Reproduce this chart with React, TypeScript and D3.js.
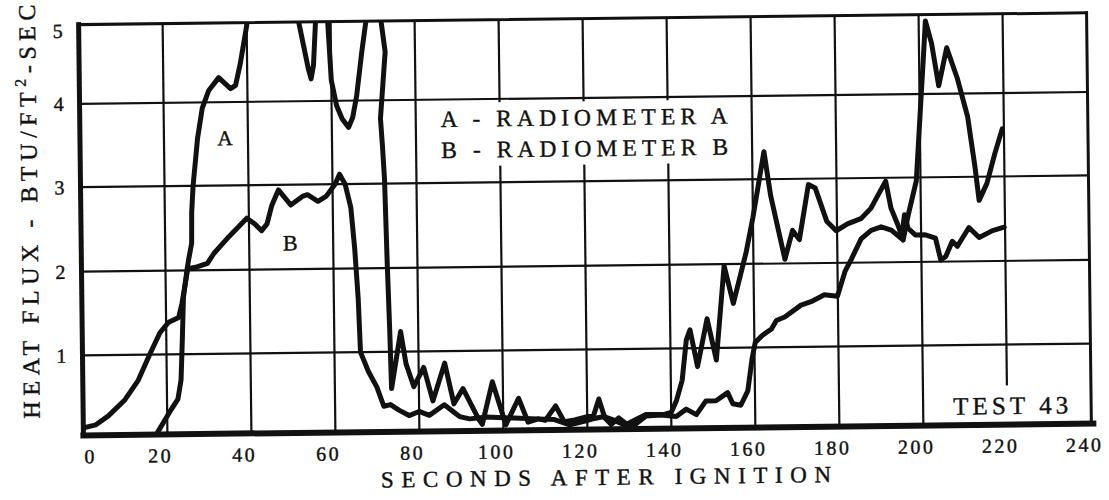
import React from 'react';
import * as d3 from 'd3';

const timeTicks: number[] = [0, 20, 40, 60, 80, 100, 120, 140, 160, 180, 200, 220, 240];
const fluxTicks: number[] = [1, 2, 3, 4, 5];
const fluxGridLevels: number[] = [0, 1, 2, 3, 4, 5];

const legendLines: string[] = ['A - RADIOMETER A', 'B - RADIOMETER B'];
const xTitle = 'SECONDS AFTER IGNITION';
const testLabel = 'TEST 43';

// Radiometer A: [seconds, BTU/ft^2-sec] (values above 5 run off the top of the chart)
const radiometerA: [number, number][] = [
  [17.7, 0.03], [20.6, 0.28], [22.6, 0.44], [23.4, 0.68], [23.8, 1.16], [24.2, 1.68], [25.1, 2.0],
  [25.5, 2.12], [26.3, 2.32], [26.4, 2.69], [26.8, 3.0], [28, 3.57], [29.2, 3.93], [30.8, 4.15],
  [33.2, 4.31], [34.4, 4.25], [36, 4.17], [37.2, 4.21], [38.4, 4.49], [40, 4.96], [40.5, 5.4],
  [52, 5.4], [52.4, 5.0], [53.5, 4.7], [54.6, 4.4], [55.2, 4.28], [55.8, 4.45], [56.4, 5.0], [56.8, 5.4],
  [59, 5.4], [59.3, 5.0], [60, 4.26], [61.2, 3.94], [62.5, 3.78], [64, 3.68], [65, 3.8], [66, 4.06],
  [67.3, 4.6], [68.4, 5.0], [68.8, 5.4], [71.8, 5.4], [72, 5.0], [72.9, 4.61], [71.6, 3.78], [72, 3.45],
  [72.4, 3.05], [72.8, 2.07], [73.2, 1.29], [73.5, 0.54], [75.8, 1.24], [77, 0.85], [78.8, 0.56],
  [81.2, 0.8], [83.3, 0.38], [86.2, 0.85], [88.3, 0.34], [90.5, 0.53], [94.2, 0.14], [95, 0.08],
  [97.5, 0.61], [100.6, 0.07], [103.7, 0.4], [105.9, 0.1], [108.3, 0.14], [110, 0.12], [112.5, 0.3],
  [114.5, 0.1], [117, 0.12], [120, 0.16], [121.5, 0.17], [122.8, 0.38], [124.2, 0.14], [125.7, 0.06],
  [127.5, 0.14], [129.4, 0.06], [131.7, 0.12], [134, 0.18], [138.5, 0.18], [140, 0.2], [141.3, 0.35],
  [142.7, 0.6], [143.8, 1.1], [144.7, 1.22], [146.4, 0.77], [148.8, 1.35], [150.9, 0.85], [153, 1.98],
  [155.1, 1.53], [158.3, 2.14], [160, 2.55], [162.8, 3.33], [164.3, 2.8], [167.5, 2.05], [169.4, 2.39],
  [171, 2.28], [173.3, 2.93], [174.9, 2.89], [177.6, 2.49], [179.8, 2.38], [182.5, 2.46], [185.7, 2.52],
  [188.1, 2.64], [191.7, 2.96], [192.9, 2.64], [194.5, 2.44], [195.7, 2.26], [197, 2.56], [199, 2.96],
  [200.2, 3.84], [201, 4.44], [201.6, 4.92], [203, 4.64], [204.6, 4.1], [206.6, 4.58], [209, 4.2],
  [211.4, 3.72], [213, 3.12], [213.9, 2.72], [215.8, 2.92], [217.8, 3.28], [219.6, 3.57],
];

// Radiometer B
const radiometerB: [number, number][] = [
  [0.5, 0.1], [3, 0.13], [6, 0.24], [10, 0.44], [13.2, 0.68], [16, 1.0], [18.5, 1.26], [20.5, 1.38],
  [23, 1.44], [23.8, 1.6], [25.3, 2.02], [27.5, 2.04], [30, 2.08], [31.6, 2.2], [35.3, 2.4],
  [39.5, 2.61], [41.4, 2.54], [43, 2.46], [44.3, 2.54], [45.5, 2.76], [47.1, 2.94], [48.4, 2.86],
  [50, 2.76], [52.8, 2.86], [54, 2.88], [56.5, 2.8], [58.5, 2.86], [60.6, 3.0], [61.7, 3.12],
  [63, 3.0], [64.3, 2.72], [65.1, 2.24], [65.8, 1.64], [66.2, 1.0], [68, 0.76], [70, 0.56],
  [71.6, 0.32], [73.2, 0.34], [75.2, 0.27], [77.6, 0.2], [80, 0.25], [82.4, 0.2], [86, 0.33],
  [89.6, 0.18], [92, 0.15], [96, 0.17], [100, 0.16], [104, 0.15], [108, 0.14], [112, 0.13],
  [115.8, 0.06], [119, 0.1], [122, 0.14], [124, 0.16], [126, 0.12], [128.5, 0.06], [131, 0.04],
  [134, 0.16], [137.6, 0.17], [141.2, 0.15], [143.6, 0.24], [146, 0.17], [148.3, 0.34], [150.7, 0.34],
  [153.5, 0.44], [154.7, 0.3], [156.6, 0.28], [158.3, 0.46], [159.4, 0.86], [160.2, 1.06],
  [161.8, 1.14], [164.1, 1.22], [165.3, 1.32], [167.3, 1.36], [171.2, 1.5], [173.6, 1.54],
  [176.8, 1.62], [179.9, 1.6], [181.8, 1.9], [183.3, 2.04], [185.7, 2.28], [188.1, 2.38],
  [190.5, 2.42], [192.9, 2.38], [195.3, 2.28], [196.1, 2.56], [196.9, 2.4], [198.6, 2.32],
  [201, 2.32], [203.4, 2.28], [204.6, 2.02], [205.8, 2.06], [207.4, 2.24], [208.6, 2.18],
  [211.4, 2.4], [213.8, 2.28], [217, 2.36], [219.8, 2.4],
];

const W = 1109;
const H = 500;
const INK = '#111';
const FONT = 'Liberation Serif';

export default function App() {
  const x = d3.scaleLinear().domain([0, 240]).range([81, 1089]);
  const y = d3.scaleLinear().domain(fluxGridLevels).range([429.5, 349.5, 265.8, 181.3, 97.9, 18.7]);
  const line = d3
    .line<[number, number]>()
    .x((d) => x(d[0]))
    .y((d) => y(d[1]));

  const x0 = x(0), x1 = x(240), yTop = y(5), yBot = y(0);

  return (
    <svg
      width={W}
      height={H}
      viewBox={`0 0 ${W} ${H}`}
      fontFamily={FONT}
      fill={INK}
      style={{ position: 'absolute', left: 0, top: 0, display: 'block', background: '#fff' }}
    >
      <rect x={0} y={0} width={W} height={H} fill="#fff" />
      <g transform="rotate(-0.67 585 225)">
        <defs>
          <clipPath id="plotClip">
            <rect x={x0} y={yTop} width={x1 - x0} height={yBot - yTop} />
          </clipPath>
        </defs>

        {/* grid */}
        {timeTicks.slice(1, -1).map((t) => (
          <line key={'v' + t} x1={x(t)} x2={x(t)} y1={yTop} y2={yBot} stroke={INK} strokeWidth={2.2} />
        ))}
        {fluxTicks.slice(0, -1).map((v) => (
          <line key={'h' + v} x1={x0} x2={x1} y1={y(v)} y2={y(v)} stroke={INK} strokeWidth={2.2} />
        ))}

        {/* blank areas behind the annotations */}
        <rect x={x(85)} y={y(3.96)} width={x(156) - x(85)} height={y(3.2) - y(3.96)} fill="#fff" />
        <rect x={x(207)} y={y(0.49)} width={x(238.5) - x(207)} height={y(0.03) - y(0.49)} fill="#fff" />

        {/* frame */}
        <line x1={x0} x2={x1} y1={yTop} y2={yTop} stroke={INK} strokeWidth={3} strokeLinecap="square" />
        <line x1={x1} x2={x1} y1={yTop} y2={yBot} stroke={INK} strokeWidth={3} strokeLinecap="square" />
        <line x1={x0} x2={x0} y1={yTop} y2={yBot} stroke={INK} strokeWidth={5} strokeLinecap="square" />
        <line x1={x0} x2={x1 + 2} y1={yBot} y2={yBot} stroke={INK} strokeWidth={6} strokeLinecap="square" />

        {/* curves */}
        <g clipPath="url(#plotClip)">
          <path d={line(radiometerA) ?? ''} fill="none" stroke={INK} strokeWidth={5} strokeLinejoin="round" strokeLinecap="round" />
          <path d={line(radiometerB) ?? ''} fill="none" stroke={INK} strokeWidth={5} strokeLinejoin="round" strokeLinecap="round" />
        </g>

        <g stroke={INK} strokeWidth={0.4}>
          {/* tick labels */}
          {timeTicks.map((t) => (
            <text key={'xt' + t} x={x(t) + (t === 0 ? 7 : -7)} y={457.5} textAnchor="middle" fontSize={20} letterSpacing={2.5}>
              {t}
            </text>
          ))}
          {fluxTicks.map((v) => (
            <text key={'yt' + v} x={60} y={y(v) + (v === 5 ? 13 : 7)} textAnchor="middle" fontSize={20}>
              {v}
            </text>
          ))}

          {/* axis titles */}
          <text x={378} y={485} fontSize={23} textLength={450} lengthAdjust="spacing">
            {xTitle}
          </text>
          <text transform="translate(37.5 412) rotate(-90)" fontSize={24} textLength={414} lengthAdjust="spacing">
            HEAT FLUX - BTU/FT<tspan fontSize={16} dy={-10}>2</tspan><tspan dy={10}>-SEC</tspan>
          </text>

          {/* legend */}
          {legendLines.map((s, i) => (
            <text key={s} x={442} y={125.3 + i * 31} fontSize={23.5} textLength={287} lengthAdjust="spacing">
              {s}
            </text>
          ))}
          <text x={226} y={141} textAnchor="middle" fontSize={21}>A</text>
          <text x={290} y={247} textAnchor="middle" fontSize={22}>B</text>
          <text x={951} y={419} fontSize={25} textLength={115} lengthAdjust="spacing">
            {testLabel}
          </text>
        </g>
      </g>
    </svg>
  );
}
